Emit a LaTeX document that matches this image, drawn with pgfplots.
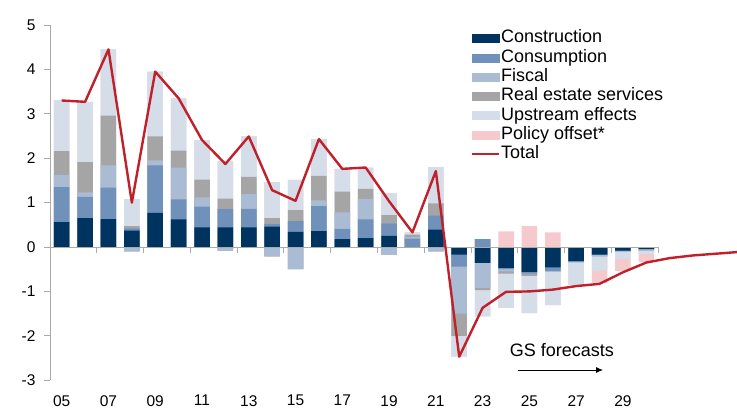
\documentclass[border=0pt]{standalone}
\usepackage{pgfplots}
\pgfplotsset{compat=1.18}
\usepackage{pgfplotstable}
\usepackage{fontspec}
\setmainfont{Liberation Sans}
\usetikzlibrary{arrows.meta}
\definecolor{cConstr}{RGB}{0,52,96}
\definecolor{cCons}{RGB}{112,146,186}
\definecolor{cFiscal}{RGB}{169,188,212}
\definecolor{cRE}{RGB}{165,165,165}
\definecolor{cUp}{RGB}{213,221,233}
\definecolor{cPolicy}{RGB}{246,201,205}
\definecolor{cTotal}{RGB}{192,32,42}
\definecolor{cAxis}{RGB}{170,170,170}

% cumulative stack levels (positive p1..p6, negative n1..n6):
% 1 Construction, 2 Consumption, 3 Fiscal, 4 Real estate services, 5 Upstream effects, 6 Policy offset
\pgfplotstableread{
year p1 p2 p3 p4 p5 p6 n1 n2 n3 n4 n5 n6
2005 0.56 1.35 1.62 2.16 3.30 3.30 0 0 0 0 0 0
2006 0.65 1.13 1.23 1.91 3.27 3.27 0 0 0 0 0 0
2007 0.63 1.34 1.84 2.96 4.45 4.45 0 0 0 0 0 0
2008 0.37 0.42 0.42 0.47 1.08 1.08 0 0 -0.10 -0.10 -0.10 -0.10
2009 0.77 1.84 1.95 2.49 3.95 3.95 0 0 0 0 0 0
2010 0.62 1.07 1.79 2.17 3.35 3.35 0 0 0 0 0 0
2011 0.44 0.91 1.12 1.52 2.41 2.41 0 0 0 0 0 0
2012 0.44 0.86 0.86 1.09 1.94 1.94 0 0 -0.08 -0.08 -0.08 -0.08
2013 0.44 0.86 1.19 1.58 2.49 2.49 0 0 0 0 0 0
2014 0.46 0.52 0.52 0.65 1.46 1.46 0 0 -0.21 -0.21 -0.21 -0.21
2015 0.34 0.59 0.59 0.83 1.51 1.51 0 0 -0.50 -0.50 -0.50 -0.50
2016 0.36 0.92 1.05 1.60 2.43 2.43 0 0 0 0 0 0
2017 0.18 0.41 0.78 1.25 1.76 1.76 0 0 0 0 0 0
2018 0.20 0.62 1.08 1.31 1.79 1.79 0 0 0 0 0 0
2019 0.25 0.53 0.53 0.72 1.21 1.21 0 0 -0.17 -0.17 -0.17 -0.17
2020 0.00 0.19 0.22 0.28 0.33 0.33 0 0 0 0 0 0
2021 0.39 0.71 0.72 0.98 1.80 1.80 0 0 -0.10 -0.10 -0.10 -0.10
2022 0 0 0 0 0 0 -0.17 -0.44 -1.50 -2.00 -2.47 -2.47
2023 0 0.18 0.18 0.18 0.18 0.18 -0.36 -0.36 -0.92 -0.97 -1.56 -1.56
2024 0 0 0 0 0 0.35 -0.47 -0.50 -0.55 -0.60 -1.37 -1.37
2025 0 0 0 0 0 0.47 -0.56 -0.60 -0.60 -0.65 -1.49 -1.49
2026 0 0 0 0 0 0.33 -0.46 -0.54 -0.56 -0.56 -1.31 -1.31
2027 0 0 0 0 0 0 -0.31 -0.34 -0.34 -0.34 -0.86 -0.86
2028 0 0 0 0 0 0 -0.17 -0.17 -0.21 -0.21 -0.53 -0.80
2029 0 0 0 0 0 0 -0.08 -0.08 -0.11 -0.11 -0.28 -0.54
2030 0 0 0 0 0 0 -0.05 -0.05 -0.08 -0.08 -0.16 -0.34
}\bars

\pgfplotstableread{
year total
2005 3.30
2006 3.27
2007 4.45
2008 1.00
2009 3.95
2010 3.35
2011 2.41
2012 1.87
2013 2.49
2014 1.28
2015 1.04
2016 2.43
2017 1.76
2018 1.79
2019 1.03
2020 0.33
2021 1.71
2022 -2.47
2023 -1.37
2024 -1.01
2025 -1.00
2026 -0.96
2027 -0.88
2028 -0.83
2029 -0.57
2030 -0.35
2031 -0.25
2032 -0.19
2033 -0.15
2034 -0.11
}\totals

\pgfplotsset{seg/.style={ybar, bar width=15.5pt, bar shift=0pt, draw=none, fill=#1, forget plot}}

\begin{document}
\begin{tikzpicture}
\begin{axis}[
  at={(0,0)}, anchor=south west,
  scale only axis, width=608pt, height=355.2pt,
  xmin=2004.5, xmax=2030.5, ymin=-3, ymax=5,
  clip=false,
  axis y line*=left, axis x line*=bottom,
  x axis line style={draw=none},
  y axis line style={draw=cAxis, line width=0.8pt},
  xtick={2005,2007,...,2029},
  xticklabels={05,07,09,11,13,15,17,19,21,23,25,27,29},
  xtick style={draw=none},
  ytick={-3,-2,...,5},
  ytick style={draw=cAxis, line width=0.8pt},
  tick align=outside,
  major tick length=6pt,
  ticklabel style={font=\fontsize{15.5}{16}\selectfont},
  /pgf/number format/assume math mode=true,
  yticklabel style={xshift=-5pt},
  xticklabel style={yshift=-5.5pt},
  legend cell align=left,
  legend style={at={(axis description cs:0.6924,0.9892)}, anchor=north west,
    draw=none, fill=none, inner sep=0pt, outer sep=0pt,
    font=\fontsize{18}{19}\selectfont, row sep=0pt,
    nodes={inner sep=1pt, text height=13pt, text depth=4.3pt}},
]
\addlegendimage{legend image code/.code={\fill[cConstr] (0pt,-4pt) rectangle (27pt,4pt);}}
\addlegendentry{Construction}
\addlegendimage{legend image code/.code={\fill[cCons] (0pt,-4pt) rectangle (27pt,4pt);}}
\addlegendentry{Consumption}
\addlegendimage{legend image code/.code={\fill[cFiscal] (0pt,-4pt) rectangle (27pt,4pt);}}
\addlegendentry{Fiscal}
\addlegendimage{legend image code/.code={\fill[cRE] (0pt,-4pt) rectangle (27pt,4pt);}}
\addlegendentry{Real estate services}
\addlegendimage{legend image code/.code={\fill[cUp] (0pt,-4pt) rectangle (27pt,4pt);}}
\addlegendentry{Upstream effects}
\addlegendimage{legend image code/.code={\fill[cPolicy] (0pt,-4pt) rectangle (27pt,4pt);}}
\addlegendentry{Policy offset*}
\addlegendimage{legend image code/.code={\draw[cTotal, line width=2.2pt] (0pt,0pt) -- (27pt,0pt);}}
\addlegendentry{Total}

\addplot[seg=cPolicy] table[x=year, y=p6]{\bars};
\addplot[seg=cPolicy] table[x=year, y=n6]{\bars};
\addplot[seg=cUp] table[x=year, y=p5]{\bars};
\addplot[seg=cUp] table[x=year, y=n5]{\bars};
\addplot[seg=cRE] table[x=year, y=p4]{\bars};
\addplot[seg=cRE] table[x=year, y=n4]{\bars};
\addplot[seg=cFiscal] table[x=year, y=p3]{\bars};
\addplot[seg=cFiscal] table[x=year, y=n3]{\bars};
\addplot[seg=cCons] table[x=year, y=p2]{\bars};
\addplot[seg=cCons] table[x=year, y=n2]{\bars};
\addplot[seg=cConstr] table[x=year, y=p1]{\bars};
\addplot[seg=cConstr] table[x=year, y=n1]{\bars};

\addplot[cAxis, line width=0.8pt, sharp plot, mark=none, forget plot] coordinates {(2004.5,0) (2030.5,0)};
\addplot[cAxis, line width=0.8pt, ycomb, mark=none, forget plot] coordinates {
(2004.5,-0.135) (2006.5,-0.135) (2008.5,-0.135) (2010.5,-0.135) (2012.5,-0.135)
(2014.5,-0.135) (2016.5,-0.135) (2018.5,-0.135) (2020.5,-0.135) (2022.5,-0.135)
(2024.5,-0.135) (2026.5,-0.135) (2028.5,-0.135) (2030.5,-0.135)};

\addplot[sharp plot, cTotal, line width=2.4pt, line join=round, mark=none, forget plot] table[x=year, y=total]{\totals};

\node[font=\fontsize{18}{20}\selectfont] at (axis cs:2026.39,-2.32) {GS forecasts};
\draw[line width=0.9pt, -{Latex[length=7pt,width=6pt]}] (axis cs:2024.5,-2.77) -- (axis cs:2028.15,-2.77);
\end{axis}
\pgfresetboundingbox
\useasboundingbox (-50pt,-35.8pt) rectangle (687pt,380.2pt);
\end{tikzpicture}
\end{document}
